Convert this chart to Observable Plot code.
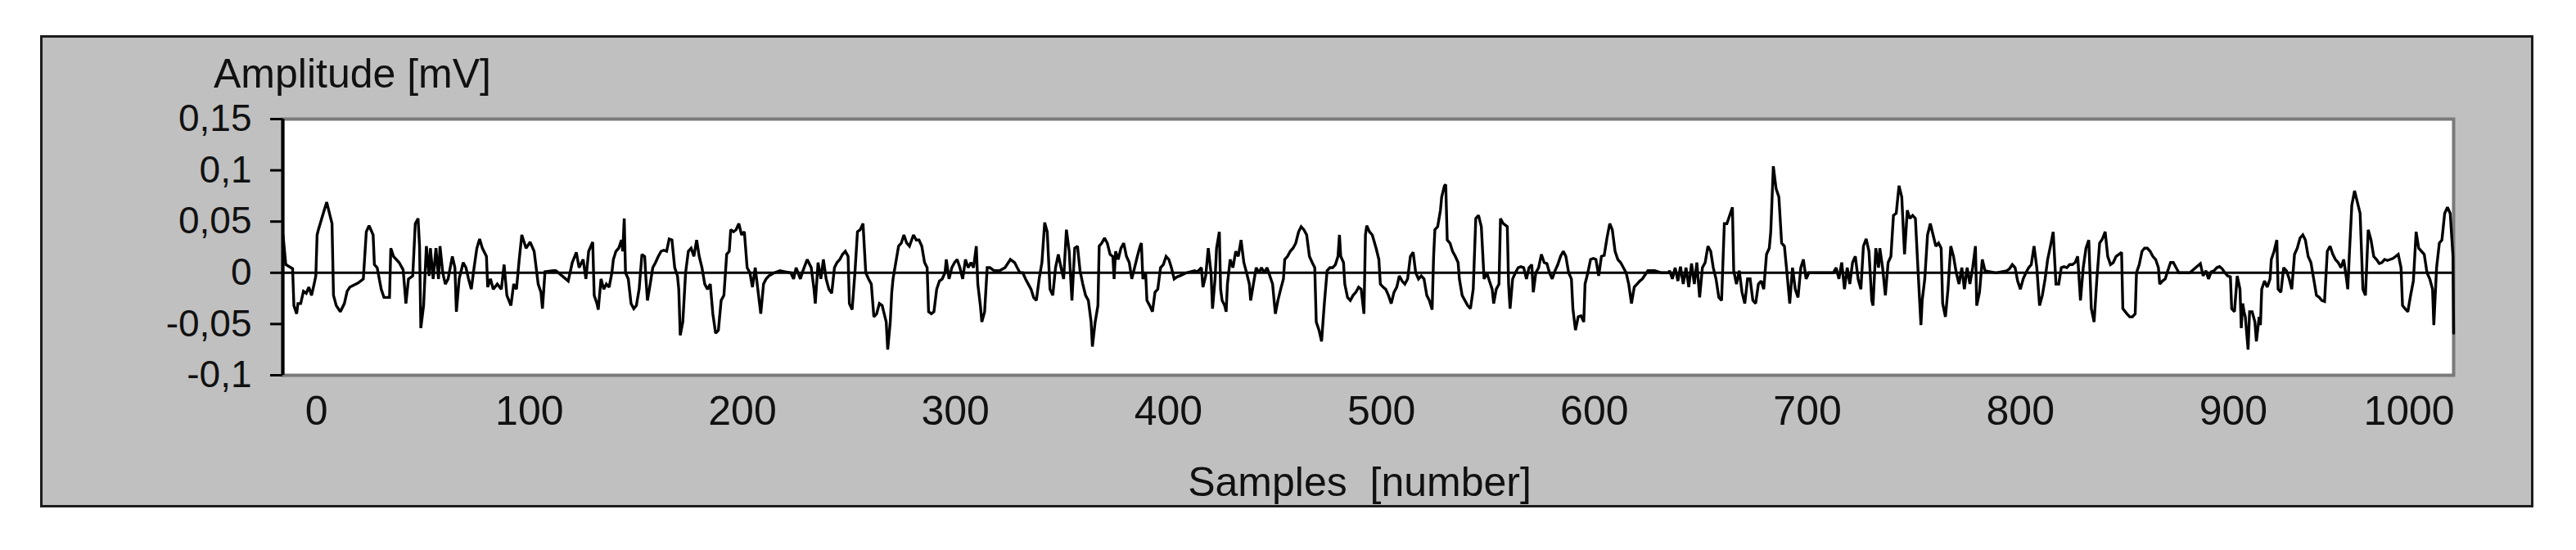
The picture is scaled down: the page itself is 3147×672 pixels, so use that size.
<!DOCTYPE html>
<html><head><meta charset="utf-8">
<script src="https://cdn.jsdelivr.net/npm/d3@7"></script>
<script src="https://cdn.jsdelivr.net/npm/@observablehq/plot@0.6"></script>
<style>
html,body{margin:0;padding:0;background:#fff;}
#wrap{position:relative;width:3147px;height:672px;overflow:hidden;font-family:"Liberation Sans",Arial,sans-serif;color:#111;}
#panel{position:absolute;left:49px;top:43px;width:3046px;height:577px;box-sizing:border-box;background:#c0c0c0;border:3px solid #1c1c1c;}
#chart{position:absolute;left:0;top:0;width:3147px;}
.lbl{position:absolute;font-size:50px;line-height:50px;white-space:pre;color:#111;}
</style></head>
<body>
<div id="wrap">
  <div id="panel"></div>
  <div id="chart"></div>
  <div class="lbl" id="ytitle" style="left:261px;top:65px"></div>
  <div class="lbl" id="xtitle" style="left:1661px;top:564px;transform:translateX(-50%)"></div>
</div>
<script>
const yTitle = "Amplitude [mV]";
const xTitle = "Samples\u00a0 [number]";
const xTicks = [0, 100, 200, 300, 400, 500, 600, 700, 800, 900];
const xLastTick = [1000];
const yTicks = [-0.1, -0.05, 0, 0.05, 0.1, 0.15];
const xDomain = [-15.8, 1003.4];
const yDomain = [-0.1, 0.15];

const samples = [
-15.7,-14.4,-11.2,-10.6,-9.3,-8.7,-7.4,-6.1,-4.8,-3.6,-2.3,-1.0,-0.3,0.3,0.9,2.9,4.8,6.1,7.3,8.0,9.3,11.2,13.1,14.4,15.7,19.5,22.0,23.4,24.7,26.6,27.2,28.5,30.4,31.7,34.3,34.9,36.2,38.8,40.7,42.0,43.2,45.2,46.4,47.7,48.4,49.0,50.3,51.6,52.9,53.5,54.8,56.1,57.3,58.0,59.3,60.5,61.8,63.8,65.0,65.7,67.0,68.9,70.2,71.4,72.7,74.0,75.3,76.6,77.9,79.8,80.4,81.7,83.0,84.9,86.8,88.1,89.4,91.3,92.6,93.9,95.2,96.4,98.4,100.3,102.2,104.1,105.4,106.1,107.3,111.2,
112.4,118.2,120.1,122.0,123.3,125.2,126.5,127.8,129.7,130.4,131.7,132.3,133.6,134.9,136.1,137.4,138.7,139.4,140.6,141.9,143.2,143.8,144.5,145.1,146.4,147.7,149.0,150.2,151.5,152.8,154.1,154.7,155.4,156.7,157.9,159.2,160.5,161.8,163.1,164.4,165.6,166.9,168.2,169.5,170.1,170.8,172.0,173.3,174.6,175.9,177.2,178.5,179.7,181.0,182.3,183.6,184.9,186.1,187.4,188.7,190.0,191.3,192.6,193.8,194.5,195.8,197.0,198.3,199.6,200.9,202.2,203.5,204.7,206.0,208.6,209.9,211.1,212.4,215.0,217.6,220.1,222.7,224.0,225.2,227.2,228.4,230.4,232.3,233.6,234.2,235.5,236.8,
238.0,239.3,240.6,241.9,243.2,244.4,245.7,247.0,248.3,249.6,250.2,251.5,252.8,254.0,255.3,256.6,257.9,259.2,260.5,261.7,263.0,264.3,265.6,267.5,268.2,269.4,270.1,270.7,272.0,273.3,274.6,275.8,277.1,278.4,280.3,281.6,282.9,284.2,285.5,286.7,287.4,288.7,289.9,291.2,292.5,293.8,295.1,295.7,297.0,298.3,299.6,300.8,302.1,303.4,304.7,306.0,307.3,308.5,309.8,310.5,311.7,312.4,313.7,314.9,316.2,318.2,320.7,323.3,325.8,327.8,329.0,330.3,331.6,332.9,334.2,335.5,336.7,338.0,339.3,340.6,341.9,343.1,344.4,345.7,347.0,348.3,349.6,350.8,352.1,353.4,354.7,356.0,357.3,358.5,359.8,361.1,362.4,363.7,364.3,365.6,366.9,
367.5,368.7,370.0,371.3,372.6,373.9,374.5,375.2,376.4,377.7,379.0,380.3,381.6,382.8,384.1,385.4,386.7,387.3,388.0,389.3,389.9,391.2,392.5,393.7,395.0,396.3,397.6,398.9,400.2,401.4,402.7,404.0,405.3,408.5,412.3,413.6,415.5,416.2,417.5,418.7,420.0,420.7,421.9,422.6,423.9,424.5,425.2,426.4,427.1,427.7,429.0,430.3,431.6,432.8,434.1,435.4,436.7,438.0,438.6,439.9,441.2,442.5,443.7,445.0,446.3,447.6,448.9,450.2,451.4,452.7,454.0,454.6,455.9,457.2,458.5,459.8,461.1,462.3,463.6,464.9,466.2,467.5,468.7,469.4,470.7,471.9,473.2,474.5,475.8,477.1,478.4,479.6,480.3,480.9,482.2,482.8,484.1,485.4,486.7,488.0,489.3,490.5,491.8,492.5,493.1,494.4,495.7,
497.5,498.8,499.5,500.8,502.0,503.3,504.6,505.9,507.2,508.4,509.7,511.0,512.3,513.6,514.9,516.1,517.4,518.7,520.0,521.3,522.5,523.8,524.5,525.1,526.4,527.7,528.3,529.6,530.2,530.9,532.2,533.4,534.7,536.0,536.6,537.9,539.2,540.5,541.8,543.1,544.3,545.6,546.9,548.2,549.5,550.7,552.0,552.7,553.9,555.2,555.9,557.2,559.1,559.7,560.4,561.6,562.9,564.2,565.5,566.8,568.1,569.3,570.6,571.3,572.5,573.8,575.1,576.4,577.7,578.9,580.2,581.5,582.8,584.1,585.4,586.6,587.9,589.2,589.9,591.1,592.4,593.7,595.0,595.6,596.9,598.2,599.5,600.7,602.0,603.3,604.6,605.9,607.2,608.4,609.7,611.0,612.3,613.6,614.9,616.1,617.4,618.7,620.0,621.3,622.5,
625.1,628.3,631.5,634.7,635.3,636.6,637.9,639.2,640.4,641.7,643.0,644.3,645.6,646.9,648.1,649.4,650.7,652.0,653.3,654.6,655.8,657.1,658.4,659.7,661.0,662.2,663.5,664.8,665.4,666.7,668.0,669.3,670.6,671.9,673.1,674.4,675.7,677.0,678.3,679.5,680.8,682.1,682.8,684.0,685.3,686.6,687.9,689.2,690.4,691.7,693.0,694.3,695.6,696.9,698.1,699.4,700.7,705.8,712.2,713.5,714.8,716.1,717.4,718.7,719.9,721.2,722.5,723.8,725.1,726.3,727.6,728.9,730.2,730.8,732.1,733.4,734.0,735.3,736.6,737.9,739.2,740.4,741.7,743.0,744.3,745.6,746.9,748.1,749.4,750.7,752.0,753.3,
753.9,755.1,756.4,757.7,759.0,760.3,761.6,762.8,763.5,764.8,766.0,767.3,768.6,769.9,771.2,772.5,773.7,775.0,776.3,777.6,778.9,779.5,780.8,782.1,783.4,788.5,793.6,794.9,796.2,797.5,798.7,800.0,801.3,802.6,803.9,805.1,806.4,807.7,809.0,810.3,811.6,812.8,814.1,815.4,816.7,818.0,819.2,820.5,821.8,823.1,824.4,825.7,826.9,828.2,829.5,830.8,832.1,833.3,834.6,835.9,837.2,838.5,839.8,841.0,842.3,843.6,844.9,846.2,847.5,848.1,850.0,851.3,852.6,853.9,854.5,855.8,857.1,858.3,859.6,860.9,862.2,863.5,864.8,865.4,866.7,868.0,869.2,870.5,871.8,873.1,874.4,879.5,
884.5,885.8,887.1,888.3,889.6,890.9,892.2,893.5,894.7,896.0,897.3,898.6,899.2,900.5,901.8,903.1,903.7,904.4,905.0,905.6,906.9,907.6,908.8,910.1,910.8,912.1,912.7,913.3,914.6,915.9,917.2,917.8,919.1,920.4,921.0,922.3,923.6,924.9,926.2,927.4,928.7,930.0,931.3,932.6,933.8,935.1,936.4,937.7,939.0,940.3,941.5,942.8,944.1,945.4,946.7,947.9,949.2,950.5,951.8,953.1,953.7,954.4,955.6,956.9,958.2,959.5,960.8,962.0,963.3,964.6,965.9,967.2,968.5,969.7,971.0,972.3,973.6,974.9,976.2,977.4,978.7,979.4,980.6,981.9,983.2,984.5,985.8,987.0,988.3,989.6,990.9,992.2,993.5,994.1,995.4,996.7,997.9,999.2,1000.5,1001.8,1003.1,1003.4
];

const amplitude = [
.037,.008,.004,-.032,-.040,-.030,-.030,-.018,-.020,-.014,-.022,-.010,-.003,.037,.042,.056,.069,.058,.048,-.022,-.032,-.038,-.030,-.018,-.014,-.010,-.006,.040,.046,.037,.008,.005,-.016,-.024,-.024,.024,.016,.010,.003,-.030,-.006,-.003,.048,.053,.026,-.054,-.032,.026,-.003,.024,-.006,.024,-.006,.026,.000,-.011,-.006,.016,.005,-.038,-.006,.010,.005,-.006,-.016,.005,.024,.033,.024,.016,-.014,-.006,-.016,-.011,-.016,.008,-.022,-.032,-.011,-.016,.013,.037,.024,.030,.021,-.011,-.019,-.035,.001,.002,
.002,-.008,.010,.020,.005,.013,-.006,.021,.030,-.022,-.030,-.036,-.006,-.016,-.011,-.014,0,.013,.021,.024,.032,.021,.053,0,-.006,-.030,-.035,-.032,-.016,.018,.016,-.006,-.027,-.011,.005,.010,.016,.021,.022,.021,.033,.032,.005,-.003,-.016,-.061,-.048,0,.021,.024,.016,.032,.016,.005,-.011,-.016,-.011,-.040,-.059,-.056,-.027,-.022,.018,.021,.042,.040,.042,.048,.037,.040,.005,0,-.014,.005,-.040,-.011,-.006,-.003,0,.002,.001,0,-.006,.005,-.006,.002,.013,.005,-.016,-.030,.010,-.006,
.013,-.006,-.016,-.020,.005,.010,.013,.018,.021,.016,-.030,-.036,0,.040,.042,.048,0,-.006,-.011,-.043,-.040,-.030,-.032,-.048,-.075,-.048,-.019,-.006,.010,.026,.029,.037,.029,.026,.037,.032,.032,.026,.010,.005,-.038,-.040,-.038,-.016,-.008,-.006,0,.013,-.006,.005,.010,.013,.005,-.006,.013,.005,.010,.005,.026,-.011,-.032,-.048,-.038,.005,.005,.002,.002,.005,.013,.010,.005,0,0,-.006,-.011,-.016,-.024,-.027,-.006,.010,.049,.040,-.016,-.022,.005,.018,.005,-.006,.042,.021,-.027,.024,.026,.002,-.011,-.022,-.027,-.048,-.072,-.048,-.032,
.026,.029,.034,.029,.018,.016,-.006,.021,.013,.024,.029,.016,.010,-.006,.005,.016,.026,.029,-.006,0,-.027,-.032,-.038,-.019,-.016,.005,.008,.016,.013,.005,-.006,-.004,-.003,0,.002,.001,.005,-.014,-.003,.024,0,-.035,-.006,.024,.040,-.016,-.027,-.032,-.038,-.011,.013,.005,.021,.016,.032,.010,0,-.011,-.027,-.011,.005,0,.005,0,.005,-.003,-.011,-.040,-.027,-.016,-.006,.013,.016,.021,.024,.029,.040,.045,.042,.037,.016,.010,.005,-.048,-.056,-.067,-.030,.002,.005,.005,.008,.016,.037,.016,.010,-.011,-.024,-.027,-.022,-.019,-.014,-.016,-.040,.037,.046,.040,.037,
.024,.013,-.011,-.014,-.016,-.022,-.030,-.019,-.014,-.003,-.008,-.011,-.006,.016,.020,0,-.006,-.003,-.006,-.022,-.027,-.036,.016,.042,.045,.061,.074,.085,.086,.032,.029,.021,.016,.010,-.006,-.022,-.027,-.032,-.035,-.016,.053,.056,.045,-.006,0,-.008,-.016,-.030,-.016,-.011,.053,.048,.045,-.011,-.035,-.006,0,.005,.006,.005,-.006,.005,.008,-.019,0,.005,.018,.010,.009,0,-.006,.002,.008,.016,.021,.016,0,-.006,-.035,-.056,-.043,-.042,-.048,-.011,0,.013,.014,.013,-.003,.016,.017,.034,.048,.042,.021,.013,.010,.005,0,-.011,-.030,-.014,-.011,-.008,-.006,
.002,.002,0,0,.002,-.006,.005,-.008,.006,-.011,.005,-.014,.009,-.011,.010,-.024,.005,.010,.026,.021,.005,-.006,-.024,-.027,.048,.048,.056,.064,.002,-.011,.002,-.019,-.030,-.006,-.006,-.027,-.030,-.011,-.008,-.016,.018,.024,.040,.104,.082,.074,.029,.026,0,-.030,.005,-.016,-.024,.005,.013,-.006,0,0,0,.005,-.006,.010,-.016,.005,-.011,.010,.016,-.006,-.016,.026,.033,.021,-.027,-.032,.024,.005,.024,.005,-.022,.010,.016,.056,.058,.085,.074,.018,.061,.053,.056,.053,0,-.051,
-.027,-.006,.037,.048,.037,.026,.029,.024,-.030,-.043,-.016,.026,.016,0,-.011,.005,-.016,.005,-.011,.005,.026,-.032,-.019,.013,.002,0,.002,.004,.008,.005,-.008,-.016,-.006,0,.005,.008,.026,.005,-.032,-.022,-.006,.013,.026,.040,-.011,-.011,.005,.006,.005,.008,.008,.010,.016,-.027,.005,.024,.032,-.035,-.048,-.006,.029,.033,.040,.016,.008,.010,.016,.018,.020,-.035,-.040,-.043,-.043,-.040,0,.008,.021,.024,.024,.021,.016,.013,.005,-.011,-.008,-.006,.002,.010,.010,.005,0,0,
.009,-.003,.002,-.006,.001,.002,.005,.006,.004,0,-.003,-.004,-.035,-.038,-.003,-.016,-.054,-.030,-.038,-.043,-.075,-.038,-.038,-.048,-.067,-.043,-.051,-.016,-.008,-.014,-.006,.013,.021,.032,-.016,-.019,.005,.002,-.006,-.016,.018,.024,.034,.037,.032,.016,.010,-.006,-.022,-.024,-.027,-.028,.021,.026,.018,.013,.010,.005,.013,-.006,-.016,.016,.066,.080,.069,.058,-.016,-.022,.042,.032,.016,.013,.009,.010,.013,.012,.013,.014,.016,.018,.005,-.032,-.035,-.038,-.022,-.008,.040,.024,.021,.018,0,-.006,-.016,-.051,.005,.029,.032,.058,.064,.058,.016,-.059
];

document.getElementById("ytitle").textContent = yTitle;
document.getElementById("xtitle").textContent = xTitle;

const data = samples.map((s, i) => ({s, v: amplitude[i]}));
const fmtY = d => String(d).replace(".", ",");
const fmtX = d => String(d);

const chart = Plot.plot({
  width: 3147,
  height: 672,
  marginLeft: 345,
  marginRight: 150,
  marginTop: 145,
  marginBottom: 214,
  style: {background: "transparent", fontFamily: "Liberation Sans, Arial, sans-serif", color: "#111", overflow: "visible", maxWidth: "none"},
  x: {domain: xDomain, axis: null},
  y: {domain: yDomain, axis: null},
  marks: [
    Plot.frame({fill: "white", stroke: "#7a7a7a", strokeWidth: 4}),
    Plot.ruleY([0], {stroke: "#000", strokeWidth: 3}),
    Plot.line(data, {x: "s", y: "v", stroke: "#000", strokeWidth: 3.4, strokeLinejoin: "miter", strokeMiterlimit: 2}),
    Plot.ruleX([xDomain[0]], {stroke: "#000", strokeWidth: 4}),
    Plot.axisY(yTicks, {tickSize: 15, tickPadding: 23, tickFormat: fmtY, fontSize: 46, stroke: "#000", strokeWidth: 3, label: null}),
    Plot.axisX(xTicks, {tickSize: 0, tickPadding: 25, tickFormat: fmtX, fontSize: 50, label: null}),
    Plot.axisX(xLastTick, {tickSize: 0, tickPadding: 25, tickFormat: fmtX, fontSize: 50, textAnchor: "end", dx: 10, label: null})
  ]
});
document.getElementById("chart").appendChild(chart);
</script>
</body></html>
